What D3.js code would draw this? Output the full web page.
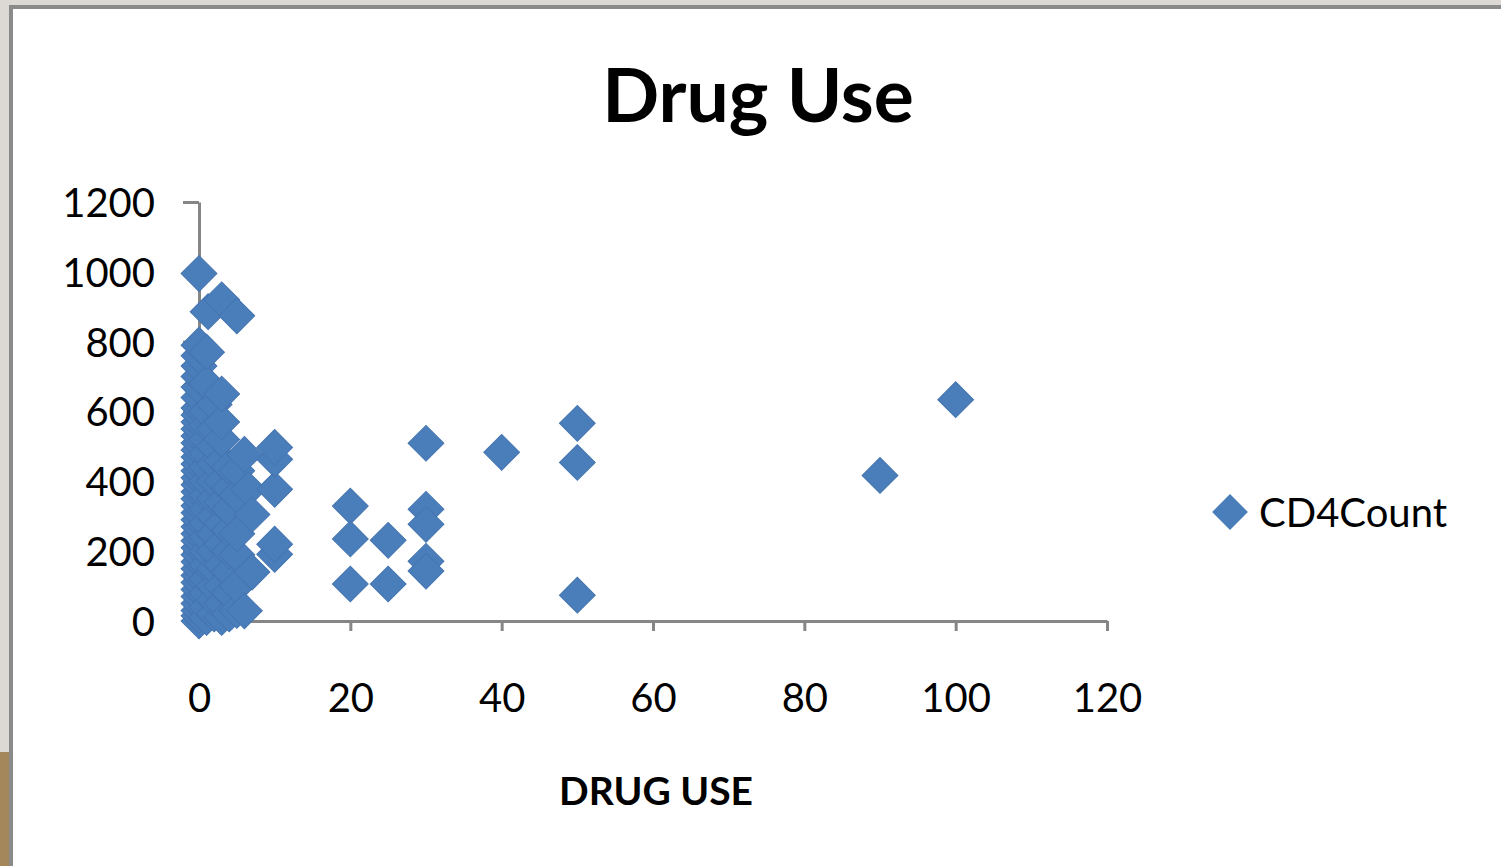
<!DOCTYPE html>
<html>
<head>
<meta charset="utf-8">
<script src="https://cdn.jsdelivr.net/npm/d3@7"></script>
<style>
  html, body { margin: 0; padding: 0; background: #dcd9d4; overflow: hidden; }
  text { font-family: Lato, 'Noto Sans', sans-serif; fill: #000; }
</style>
</head>
<body>
<svg id="chart" width="1501" height="866"></svg>
<script>
// CD4Count vs drug use (x = drug use, y = CD4 count)
const drugUse = [
  0, 0, 0, 0, 0, 0, 0, 0, 0, 0, 0, 0, 0, 0, 0, 0, 0, 0, 0, 0,
  0, 0, 0, 0, 0, 0, 0, 0, 0, 0, 0, 0, 0, 0, 0, 0, 0, 0, 0,
  1, 1, 1, 1, 1, 1, 1, 1, 1, 1, 1, 1, 1, 1, 1, 1, 1, 1, 1.2,
  2, 2, 2, 2, 2, 2, 2, 2, 2, 2, 2, 2, 2,
  3, 3, 3, 3, 3, 3, 3, 3, 3, 3, 3, 3, 3,
  4, 4, 4, 4, 4, 4, 4, 4,
  5, 5, 5, 5, 5, 5, 5,
  6, 6, 6.5, 7, 7,
  10, 10, 10, 10, 10,
  20, 20, 20, 25, 25,
  30, 30, 30, 30, 30,
  40, 50, 50, 50, 90, 100
];
const cd4Count = [
  0, 15, 30, 50, 70, 90, 110, 130, 150, 170, 190, 210, 230, 250, 270, 290, 310, 330, 350, 370,
  390, 410, 430, 450, 470, 490, 510, 530, 550, 570, 590, 610, 640, 670, 700, 730, 760, 790, 995,
  10, 40, 80, 120, 160, 200, 240, 280, 320, 360, 400, 440, 480, 520, 560, 600, 680, 770, 886,
  20, 60, 100, 150, 200, 250, 300, 350, 400, 450, 500, 550, 620,
  10, 50, 100, 160, 220, 280, 340, 400, 460, 520, 570, 650, 920,
  20, 80, 140, 200, 260, 320, 380, 440,
  30, 100, 190, 250, 360, 430, 874,
  29, 477, 377, 140, 305,
  191, 220, 377, 463, 497,
  329, 235, 106, 231, 106,
  509, 320, 277, 171, 143,
  483, 566, 454, 74, 417, 634
];
const xTicks = [0, 20, 40, 60, 80, 100, 120];
const yTicks = [0, 200, 400, 600, 800, 1000, 1200];
const seriesName = 'CD4Count';
const chartTitle = 'Drug Use';
const xTitle = 'DRUG USE';

const svg = d3.select('#chart');
const blue = '#4a7ebb';
const axisGrey = '#868686';

// window frame round the chart
svg.append('rect').attr('x', 0).attr('y', 0).attr('width', 1501).attr('height', 866).attr('fill', '#dcd9d4');
svg.append('rect').attr('x', 0).attr('y', 752).attr('width', 9).attr('height', 114).attr('fill', '#a4875a');
svg.append('rect').attr('x', 9).attr('y', 5).attr('width', 1492).attr('height', 861).attr('fill', '#8a8a8a');
svg.append('rect').attr('x', 13).attr('y', 9).attr('width', 1488).attr('height', 857).attr('fill', '#fff');

const x = d3.scaleLinear().domain([0, 120]).range([199, 1107]);
const y = d3.scaleLinear().domain([0, 1200]).range([621, 202]);

// title
svg.append('text')
  .attr('x', 758).attr('y', 122)
  .attr('text-anchor', 'middle')
  .style('font-size', '75px').style('font-weight', 'bold')
  .text(chartTitle);

// y axis
const yAxis = svg.append('g')
  .attr('transform', `translate(${x(0)},0)`)
  .call(d3.axisLeft(y).tickValues(yTicks).tickFormat(d3.format('d'))
    .tickSize(16).tickSizeOuter(0).tickPadding(28));
yAxis.select('.domain').attr('stroke', axisGrey).attr('stroke-width', 3);
yAxis.selectAll('.tick line').attr('stroke', axisGrey).attr('stroke-width', 3);
yAxis.selectAll('.tick text')
  .attr('dy', '0.36em')
  .style('font-size', '40px').style('font-family', 'Lato, sans-serif').attr('fill', '#000');

// x axis
const xAxis = svg.append('g')
  .attr('transform', `translate(0,${y(0)})`)
  .call(d3.axisBottom(x).tickValues(xTicks).tickFormat(d3.format('d'))
    .tickSize(10).tickSizeOuter(0).tickPadding(53));
xAxis.select('.domain').attr('stroke', axisGrey).attr('stroke-width', 3);
xAxis.selectAll('.tick line').attr('stroke', axisGrey).attr('stroke-width', 3);
xAxis.selectAll('.tick text')
  .style('font-size', '40px').style('font-family', 'Lato, sans-serif').attr('fill', '#000');

// x axis title
svg.append('text')
  .attr('x', 656).attr('y', 805)
  .attr('text-anchor', 'middle')
  .style('font-size', '39px').style('font-weight', 'bold')
  .text(xTitle);

// points
const diamond = d3.symbol().type(d3.symbolSquare).size(640);
const points = drugUse.map((d, i) => ({ x: d, y: cd4Count[i] }));
svg.append('g')
  .selectAll('path')
  .data(points)
  .enter().append('path')
    .attr('d', diamond)
    .attr('transform', d => `translate(${x(d.x)},${y(d.y)}) rotate(45)`)
    .attr('fill', blue)
    .attr('stroke', '#4575b0')
    .attr('stroke-width', 1);

// legend
const legend = svg.append('g').attr('transform', 'translate(1230,512)');
legend.append('path')
  .attr('d', diamond)
  .attr('transform', 'rotate(45)')
  .attr('fill', blue);
legend.append('text')
  .attr('x', 29).attr('y', 15)
  .style('font-size', '40px')
  .text(seriesName);
</script>
</body>
</html>
